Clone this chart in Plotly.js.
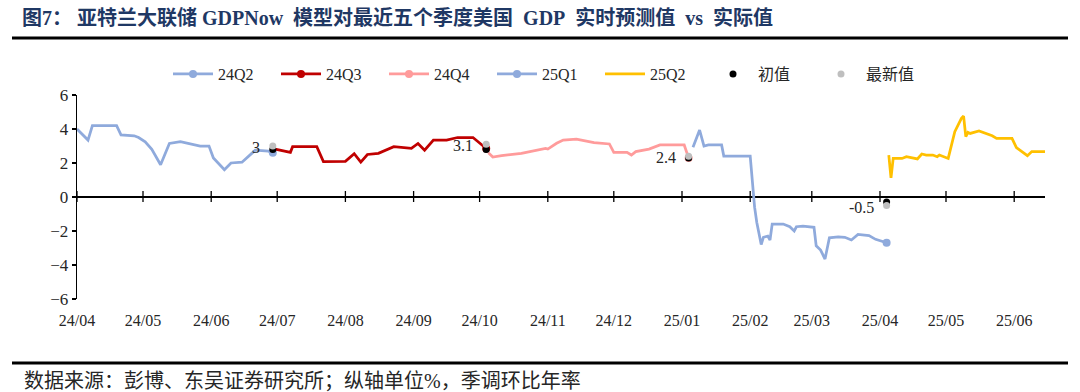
<!DOCTYPE html>
<html>
<head>
<meta charset="utf-8">
<script src="https://cdn.plot.ly/plotly-3.0.1.min.js"></script>
<style>
  html, body { margin: 0; padding: 0; background: #ffffff; }
  #chart { width: 1080px; height: 392px; }
</style>
</head>
<body>
<div id="chart"></div>
<script>
// ---------------- data ----------------
const dates24Q2 = ["2024-04-01","2024-04-06","2024-04-08","2024-04-19","2024-04-21","2024-04-27","2024-04-29","2024-05-02","2024-05-05","2024-05-09","2024-05-11","2024-05-13","2024-05-18","2024-05-20","2024-05-27","2024-05-31","2024-06-02","2024-06-07","2024-06-10","2024-06-15","2024-06-21","2024-06-27","2024-06-29"];
const values24Q2 = [4.0,3.35,4.2,4.2,3.65,3.6,3.5,3.25,2.8,1.9,2.5,3.15,3.25,3.2,3.0,3.0,2.3,1.6,2.0,2.05,2.75,2.7,2.6];

const dates24Q3 = ["2024-06-29","2024-07-07","2024-07-08","2024-07-19","2024-07-22","2024-08-01","2024-08-05","2024-08-08","2024-08-11","2024-08-16","2024-08-23","2024-08-31","2024-09-03","2024-09-06","2024-09-10","2024-09-16","2024-09-21","2024-09-28","2024-10-04"];
const values24Q3 = [2.85,2.63,2.96,2.96,2.08,2.1,2.55,2.05,2.5,2.57,2.96,2.86,3.15,2.75,3.35,3.35,3.5,3.5,2.85];

const dates24Q4 = ["2024-10-05","2024-10-07","2024-10-11","2024-10-20","2024-10-27","2024-10-31","2024-11-01","2024-11-05","2024-11-08","2024-11-14","2024-11-22","2024-11-29","2024-12-01","2024-12-07","2024-12-09","2024-12-11","2024-12-17","2024-12-22","2025-01-02","2025-01-04"];
const values24Q4 = [2.6,2.35,2.43,2.57,2.76,2.86,2.82,3.16,3.35,3.41,3.2,3.12,2.63,2.63,2.47,2.67,2.82,3.06,3.06,2.3];

const dates25Q1 = ["2025-01-06","2025-01-09","2025-01-11","2025-01-13","2025-01-19","2025-01-20","2025-02-01","2025-02-03","2025-02-04","2025-02-06","2025-02-07","2025-02-09","2025-02-10","2025-02-11","2025-02-16","2025-02-19","2025-02-21","2025-02-22","2025-02-25","2025-03-02","2025-03-03","2025-03-05","2025-03-07","2025-03-09","2025-03-13","2025-03-16","2025-03-19","2025-03-22","2025-03-27","2025-03-30","2025-04-04"];
const values25Q1 = [2.92,3.94,3.0,3.06,3.06,2.41,2.41,-0.6,-1.5,-2.8,-2.37,-2.3,-2.53,-1.59,-1.59,-1.75,-2.0,-1.75,-1.71,-1.78,-2.87,-3.12,-3.65,-2.4,-2.35,-2.37,-2.53,-2.2,-2.27,-2.49,-2.69];

const dates25Q2 = ["2025-04-05","2025-04-06","2025-04-07","2025-04-11","2025-04-13","2025-04-18","2025-04-20","2025-04-22","2025-04-25","2025-04-27","2025-04-28","2025-05-02","2025-05-05","2025-05-08","2025-05-09","2025-05-10","2025-05-11","2025-05-12","2025-05-16","2025-05-19","2025-05-22","2025-05-24","2025-05-31","2025-06-02","2025-06-07","2025-06-09","2025-06-15"];
const values25Q2 = [2.47,1.12,2.27,2.27,2.37,2.24,2.53,2.47,2.47,2.37,2.47,2.27,3.84,4.63,4.76,3.55,3.8,3.74,3.88,3.74,3.6,3.45,3.45,2.9,2.43,2.67,2.67];

const actualDates = ["2024-06-29","2024-10-04","2025-01-04","2025-04-04"];
const initialValues = [2.8, 2.8, 2.3, -0.3];   // 初值
const latestValues  = [3.0, 3.1, 2.4, -0.5];   // 最新值

const seriesNames = ["24Q2","24Q3","24Q4","25Q1","25Q2"];
const xTickStart = "2024-04-01";
const xRange = ["2024-04-01","2025-06-15"];

// ---------------- styles ----------------
const SERIF = "Liberation Serif, 'Times New Roman', 'Noto Sans CJK SC', serif";
const TXT = "#262626";

function lineSeries(name, dates, vals, color, endMarker) {
  const x = dates.slice().reverse();
  const y = vals.slice().reverse();
  const t = {
    type: "scatter", name: name, x: x, y: y,
    mode: endMarker ? "lines+markers" : "lines",
    line: { color: color, width: 2.75 },
    hoverinfo: "x+y"
  };
  if (endMarker) {
    t.marker = {
      size: 8,
      color: y.map((v, i) => i === 0 ? color : "rgba(0,0,0,0)")
    };
  }
  return t;
}

const traces = [
  lineSeries(seriesNames[0], dates24Q2, values24Q2, "#8FAADC", true),
  lineSeries(seriesNames[1], dates24Q3, values24Q3, "#C00000", true),
  lineSeries(seriesNames[2], dates24Q4, values24Q4, "#FF9B9B", true),
  lineSeries(seriesNames[3], dates25Q1, values25Q1, "#8FAADC", true),
  lineSeries(seriesNames[4], dates25Q2, values25Q2, "#FFC000", false),
  { type: "scatter", name: "初值", x: actualDates, y: initialValues, mode: "markers",
    marker: { color: "#000000", size: 7 } },
  { type: "scatter", name: "最新值", x: actualDates, y: latestValues, mode: "markers",
    marker: { color: "#BFBFBF", size: 7 } }
];

// plot area geometry in pixels
const W = 1080, H = 392;
const L = 77, R = 1045, T = 95, B = 299;
const pw = R - L, ph = B - T;
const px = v => (v - L) / pw;
const py = v => (B - v) / ph;
const unitPx = ph / 12; // pixels per y unit

const labelAnnotations = actualDates.map((d, i) => ({
  x: d, y: latestValues[i], xref: "x", yref: "y",
  text: String(latestValues[i]), showarrow: false,
  xanchor: "right", yanchor: "middle", xshift: -11, yshift: -1.5,
  font: { family: SERIF, size: 16, color: TXT }
}));

// month tick marks crossing the zero line (axis crosses at 0, labels stay at bottom)
const monthTicks = [];
{
  const start = new Date(xTickStart + "T00:00:00Z");
  const end = new Date(xRange[1] + "T00:00:00Z");
  for (let d = new Date(start); d <= end; d.setUTCMonth(d.getUTCMonth() + 1)) {
    monthTicks.push(d.toISOString().slice(0, 10));
  }
}
const tickShapes = monthTicks.map(d => ({
  type: "line", xref: "x", yref: "y", x0: d, x1: d,
  y0: -5 / unitPx, y1: 6 / unitPx,
  line: { color: "#000000", width: 1.3 }
}));

const layout = {
  width: W, height: H,
  margin: { l: L, r: W - R, t: T, b: H - B, pad: 0 },
  paper_bgcolor: "#ffffff", plot_bgcolor: "#ffffff",
  showlegend: true,
  title: {
    text: "<b>图7：&nbsp;亚特兰大联储&nbsp;GDPNow&nbsp;&nbsp;模型对最近五个季度美国&nbsp;&nbsp;GDP&nbsp;&nbsp;实时预测值&nbsp;&nbsp;vs&nbsp;&nbsp;实际值</b>",
    xref: "container", yref: "container", x: 22 / W, xanchor: "left",
    y: 1 - 18 / H, yanchor: "middle",
    font: { family: SERIF, size: 20, color: "#1F3864" }
  },
  xaxis: {
    type: "date", range: xRange, tick0: xTickStart, dtick: "M1", tickformat: "%y/%m",
    showline: false, ticks: "", showgrid: false, zeroline: false,
    ticklabelstandoff: 10,
    tickfont: { family: SERIF, size: 16, color: TXT }, fixedrange: true
  },
  yaxis: {
    range: [-6, 6], dtick: 2, tick0: 0,
    showline: true, linecolor: "#000000", linewidth: 1.3,
    ticks: "outside", ticklen: 4, tickwidth: 1.3, tickcolor: "#000000",
    showgrid: false, zeroline: true, zerolinecolor: "#000000", zerolinewidth: 1.3,
    tickfont: { family: SERIF, size: 17, color: TXT }, fixedrange: true
  },
  legend: {
    orientation: "h", x: px(168), y: py(74), xanchor: "left", yanchor: "middle",
    font: { family: SERIF, size: 16, color: TXT },
    bgcolor: "rgba(0,0,0,0)", itemwidth: 40, entrywidth: 53,
    traceorder: "normal"
  },
  shapes: [
    { type: "line", xref: "paper", yref: "paper", x0: px(12), x1: px(1068), y0: py(38), y1: py(38),
      line: { color: "#000000", width: 3 } },
    { type: "line", xref: "paper", yref: "paper", x0: px(12), x1: px(1068), y0: py(363), y1: py(363),
      line: { color: "#000000", width: 3 } }
  ].concat(tickShapes.map(s => Object.assign(s, { layer: "below" }))),
  annotations: labelAnnotations.concat([
    { xref: "paper", yref: "paper", x: px(22), y: py(381), xanchor: "left", yanchor: "middle",
      showarrow: false, text: "数据来源：彭博、东吴证券研究所；纵轴单位%，季调环比年率",
      font: { family: SERIF, size: 20, color: TXT } }
  ])
};

Plotly.newPlot("chart", traces, layout, { staticPlot: true, displayModeBar: false });
</script>
</body>
</html>
